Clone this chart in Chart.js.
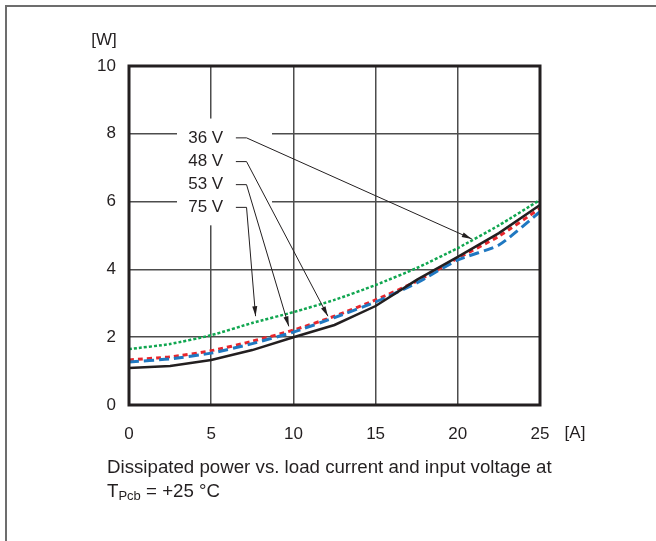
<!DOCTYPE html>
<html>
<head>
<meta charset="utf-8">
<script src="https://cdn.jsdelivr.net/npm/chart.js@4.4.1/dist/chart.umd.min.js"></script>
<style>
  body { margin: 0; background: #fff; }
  #wrap { position: relative; width: 656px; height: 541px; overflow: hidden; }
  #frame { position: absolute; left: 5px; top: 5px; width: 700px; height: 600px;
           border-left: 2px solid #6d6d6d; border-top: 2px solid #6d6d6d; }
  .txt { position: absolute; font-family: "Liberation Sans", Arial, sans-serif; color: #231f20; white-space: nowrap; }
  #caption { left: 107px; top: 455px; font-size: 18.7px; line-height: 24px; }
  #caption sub { font-size: 13px; vertical-align: -3px; line-height: 0; }
</style>
</head>
<body>
<div id="wrap">
  <div id="frame"></div>
  <canvas id="c" width="656" height="541"></canvas>
  <div class="txt" id="caption">Dissipated power vs. load current and input voltage at<br>T<sub>Pcb</sub> = +25 °C</div>
</div>
<script>
// load current [A]
const current = [0, 2.5, 5, 7.5, 10, 12.5, 15, 17.5, 20, 22.5, 25];
// dissipated power [W]
const p36 = [1.09, 1.15, 1.33, 1.62, 2.0, 2.36, 2.92, 3.69, 4.37, 5.07, 5.9];
const p48 = [1.27, 1.36, 1.53, 1.81, 2.15, 2.58, 3.04, 3.6, 4.28, 4.72, 5.7];
const p53 = [1.33, 1.42, 1.6, 1.88, 2.21, 2.62, 3.1, 3.65, 4.33, 4.98, 5.8];
const p75 = [1.65, 1.8, 2.06, 2.42, 2.74, 3.1, 3.54, 4.04, 4.63, 5.3, 6.05];

const xTicks = [0, 5, 10, 15, 20, 25];
const yTicks = [0, 2, 4, 6, 8, 10];

// callout labels: text, label row (y in W), arrow tip (x in A, y in W)
const callouts = [
  { text: '36 V', y: 7.88, tip: [20.85, 4.9] },
  { text: '48 V', y: 7.18, tip: [12.1, 2.62] },
  { text: '53 V', y: 6.5, tip: [9.72, 2.32] },
  { text: '75 V', y: 5.83, tip: [7.7, 2.62] }
];

const FONT = '"Liberation Sans", Arial, sans-serif';
const INK = '#231f20';

function pts(ys) {
  return ys.map((y, i) => ({ x: current[i], y: y }));
}

const overlay = {
  id: 'overlay',
  beforeDatasetsDraw(chart) {
    const { ctx, scales: { x, y } } = chart;
    // white box behind the callout labels
    ctx.save();
    ctx.fillStyle = '#fff';
    const l = x.getPixelForValue(2.92), r = x.getPixelForValue(8.7);
    const t = y.getPixelForValue(8.45), b = y.getPixelForValue(5.3);
    ctx.fillRect(l, t, r - l, b - t);
    ctx.restore();
  },
  afterDatasetsDraw(chart) {
    const { ctx, chartArea: a, scales: { x, y } } = chart;
    ctx.save();
    // plot frame
    ctx.strokeStyle = INK;
    ctx.lineWidth = 3;
    ctx.strokeRect(a.left, a.top, a.right - a.left, a.bottom - a.top);

    // callouts
    ctx.font = '17px ' + FONT;
    ctx.fillStyle = INK;
    ctx.textBaseline = 'middle';
    ctx.textAlign = 'left';
    ctx.lineWidth = 1;
    ctx.strokeStyle = INK;
    callouts.forEach(c => {
      const ty = y.getPixelForValue(c.y);
      ctx.fillText(c.text, x.getPixelForValue(3.6), ty);
      const x0 = x.getPixelForValue(6.5), x1 = x.getPixelForValue(7.15);
      const tx = x.getPixelForValue(c.tip[0]), tyy = y.getPixelForValue(c.tip[1]);
      ctx.beginPath();
      ctx.moveTo(x0, ty);
      ctx.lineTo(x1, ty);
      ctx.lineTo(tx, tyy);
      ctx.stroke();
      // arrow head
      const ang = Math.atan2(tyy - ty, tx - x1);
      ctx.beginPath();
      ctx.moveTo(tx, tyy);
      ctx.lineTo(tx - 10 * Math.cos(ang) + 2.5 * Math.sin(ang), tyy - 10 * Math.sin(ang) - 2.5 * Math.cos(ang));
      ctx.lineTo(tx - 10 * Math.cos(ang) - 2.5 * Math.sin(ang), tyy - 10 * Math.sin(ang) + 2.5 * Math.cos(ang));
      ctx.closePath();
      ctx.fill();
    });

    // axis units
    ctx.font = '17px ' + FONT;
    ctx.textAlign = 'center';
    ctx.fillText('[W]', 104, 40);
    ctx.fillText('[A]', 575, 433);
    ctx.restore();
  }
};

new Chart(document.getElementById('c'), {
  type: 'line',
  data: {
    datasets: [
      { label: '36 V', data: pts(p36), borderColor: INK, borderWidth: 2.5, tension: 0 },
      { label: '48 V', data: pts(p48), borderColor: '#1f78c1', borderWidth: 3, borderDash: [10, 5], tension: 0.2 },
      { label: '53 V', data: pts(p53), borderColor: '#e8262c', borderWidth: 3, borderDash: [5, 4], tension: 0.2 },
      { label: '75 V', data: pts(p75), borderColor: '#10a650', borderWidth: 2.5, borderDash: [3, 2], tension: 0.2 }
    ]
  },
  options: {
    responsive: false,
    animation: false,
    devicePixelRatio: 1,
    elements: { point: { radius: 0 } },
    layout: { padding: { left: 0, top: 66, right: 116, bottom: 96 } },
    plugins: { legend: { display: false }, tooltip: { enabled: false } },
    scales: {
      x: {
        type: 'linear', min: 0, max: 25,
        afterFit: s => { s.height = 40; },
        afterBuildTicks: s => { s.ticks = xTicks.map(v => ({ value: v })); },
        grid: { color: '#4d4d4d', lineWidth: 1.5, drawTicks: false },
        border: { display: false },
        ticks: { padding: 19, color: INK, font: { family: FONT, size: 17 }, maxRotation: 0 }
      },
      y: {
        type: 'linear', min: 0, max: 10,
        afterFit: s => { s.width = 129; },
        afterBuildTicks: s => { s.ticks = yTicks.map(v => ({ value: v })); },
        grid: { color: '#4d4d4d', lineWidth: 1.5, drawTicks: false },
        border: { display: false },
        ticks: { padding: 13, color: INK, font: { family: FONT, size: 17 } }
      }
    }
  },
  plugins: [overlay]
});
</script>
</body>
</html>
